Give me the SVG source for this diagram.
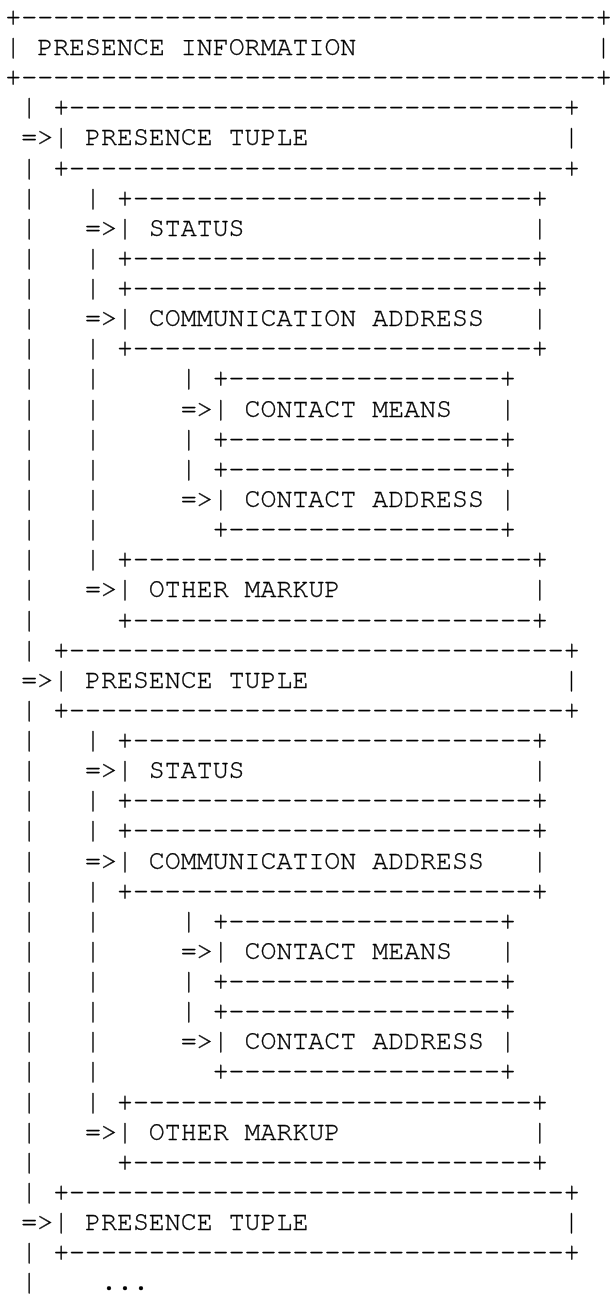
<svg xmlns="http://www.w3.org/2000/svg" width="610" height="1297" viewBox="0 0 610 1297">
<defs>
<filter id="flat" filterUnits="userSpaceOnUse" x="0" y="0" width="610" height="1297"><feOffset dx="0" dy="0"/></filter>
</defs>
<style>
text{font-family:"Nimbus Mono PS","FreeMono","Courier New","Liberation Mono",monospace;font-size:26.6px;fill:#000;stroke:#000;stroke-width:0.35px;white-space:pre}
</style>
<rect width="610" height="1297" fill="#fff"/>
<g filter="url(#flat)">
<g id="connectors">
<text x="21.25" y="115.3">|</text>
<text x="21.25" y="145.4">=&gt;</text>
<text x="21.25" y="175.5">|</text>
<text x="21.25" y="205.7">|</text><text x="21.25" y="235.8">|</text><text x="21.25" y="265.9">|</text><text x="21.25" y="296.0">|</text><text x="21.25" y="326.2">|</text><text x="21.25" y="356.3">|</text><text x="21.25" y="386.4">|</text><text x="21.25" y="416.6">|</text><text x="21.25" y="446.7">|</text><text x="21.25" y="476.8">|</text><text x="21.25" y="507.0">|</text><text x="21.25" y="537.1">|</text><text x="21.25" y="567.2">|</text><text x="21.25" y="597.3">|</text><text x="21.25" y="627.5">|</text><text x="21.25" y="657.6">|</text>
<text x="21.25" y="687.7">=&gt;</text>
<text x="21.25" y="717.9">|</text>
<text x="21.25" y="748.0">|</text><text x="21.25" y="778.1">|</text><text x="21.25" y="808.3">|</text><text x="21.25" y="838.4">|</text><text x="21.25" y="868.5">|</text><text x="21.25" y="898.6">|</text><text x="21.25" y="928.8">|</text><text x="21.25" y="958.9">|</text><text x="21.25" y="989.0">|</text><text x="21.25" y="1019.2">|</text><text x="21.25" y="1049.3">|</text><text x="21.25" y="1079.4">|</text><text x="21.25" y="1109.6">|</text><text x="21.25" y="1139.7">|</text><text x="21.25" y="1169.8">|</text><text x="21.25" y="1199.9">|</text>
<text x="21.25" y="1230.1">=&gt;</text>
<text x="21.25" y="1260.2">|</text>
<text x="21.25" y="1290.3">|</text>
<text x="85.05" y="205.7">|</text>
<text x="85.05" y="235.8">=&gt;</text>
<text x="85.05" y="265.9">|</text>
<text x="85.05" y="296.0">|</text>
<text x="85.05" y="326.2">=&gt;</text>
<text x="85.05" y="356.3">|</text>
<text x="85.05" y="386.4">|</text><text x="85.05" y="416.6">|</text><text x="85.05" y="446.7">|</text><text x="85.05" y="476.8">|</text><text x="85.05" y="507.0">|</text><text x="85.05" y="537.1">|</text><text x="85.05" y="567.2">|</text>
<text x="85.05" y="597.3">=&gt;</text>
<text x="180.75" y="386.4">|</text>
<text x="180.75" y="416.6">=&gt;</text>
<text x="180.75" y="446.7">|</text>
<text x="180.75" y="476.8">|</text>
<text x="180.75" y="507.0">=&gt;</text>
<text x="85.05" y="748.0">|</text>
<text x="85.05" y="778.1">=&gt;</text>
<text x="85.05" y="808.3">|</text>
<text x="85.05" y="838.4">|</text>
<text x="85.05" y="868.5">=&gt;</text>
<text x="85.05" y="898.6">|</text>
<text x="85.05" y="928.8">|</text><text x="85.05" y="958.9">|</text><text x="85.05" y="989.0">|</text><text x="85.05" y="1019.2">|</text><text x="85.05" y="1049.3">|</text><text x="85.05" y="1079.4">|</text><text x="85.05" y="1109.6">|</text>
<text x="85.05" y="1139.7">=&gt;</text>
<text x="180.75" y="928.8">|</text>
<text x="180.75" y="958.9">=&gt;</text>
<text x="180.75" y="989.0">|</text>
<text x="180.75" y="1019.2">|</text>
<text x="180.75" y="1049.3">=&gt;</text>
</g>
<g id="presence-information">
<text x="5.3" y="24.9">+------------------------------------+</text>
<text x="5.3" y="55.0">|</text><text x="37.2" y="55.0">PRESENCE INFORMATION</text><text x="595.45" y="55.0">|</text>
<text x="5.3" y="85.1">+------------------------------------+</text>
</g>
<g id="presence-tuple-1">
<text x="53.15" y="115.3">+-------------------------------+</text>
<text x="53.15" y="145.4">|</text><text x="85.05" y="145.4">PRESENCE TUPLE</text><text x="563.55" y="145.4">|</text>
<text x="53.15" y="175.5">+-------------------------------+</text>
</g>
<g id="status-1">
<text x="116.95" y="205.7">+-------------------------+</text>
<text x="116.95" y="235.8">|</text><text x="148.85" y="235.8">STATUS</text><text x="531.65" y="235.8">|</text>
<text x="116.95" y="265.9">+-------------------------+</text>
</g>
<g id="communication-address-1">
<text x="116.95" y="296.0">+-------------------------+</text>
<text x="116.95" y="326.2">|</text><text x="148.85" y="326.2">COMMUNICATION ADDRESS</text><text x="531.65" y="326.2">|</text>
<text x="116.95" y="356.3">+-------------------------+</text>
</g>
<g id="contact-means-1">
<text x="212.65" y="386.4">+-----------------+</text>
<text x="212.65" y="416.6">|</text><text x="244.55" y="416.6">CONTACT MEANS</text><text x="499.75" y="416.6">|</text>
<text x="212.65" y="446.7">+-----------------+</text>
</g>
<g id="contact-address-1">
<text x="212.65" y="476.8">+-----------------+</text>
<text x="212.65" y="507.0">|</text><text x="244.55" y="507.0">CONTACT ADDRESS</text><text x="499.75" y="507.0">|</text>
<text x="212.65" y="537.1">+-----------------+</text>
</g>
<g id="other-markup-1">
<text x="116.95" y="567.2">+-------------------------+</text>
<text x="116.95" y="597.3">|</text><text x="148.85" y="597.3">OTHER MARKUP</text><text x="531.65" y="597.3">|</text>
<text x="116.95" y="627.5">+-------------------------+</text>
</g>
<g id="presence-tuple-2">
<text x="53.15" y="657.6">+-------------------------------+</text>
<text x="53.15" y="687.7">|</text><text x="85.05" y="687.7">PRESENCE TUPLE</text><text x="563.55" y="687.7">|</text>
<text x="53.15" y="717.9">+-------------------------------+</text>
</g>
<g id="status-2">
<text x="116.95" y="748.0">+-------------------------+</text>
<text x="116.95" y="778.1">|</text><text x="148.85" y="778.1">STATUS</text><text x="531.65" y="778.1">|</text>
<text x="116.95" y="808.3">+-------------------------+</text>
</g>
<g id="communication-address-2">
<text x="116.95" y="838.4">+-------------------------+</text>
<text x="116.95" y="868.5">|</text><text x="148.85" y="868.5">COMMUNICATION ADDRESS</text><text x="531.65" y="868.5">|</text>
<text x="116.95" y="898.6">+-------------------------+</text>
</g>
<g id="contact-means-2">
<text x="212.65" y="928.8">+-----------------+</text>
<text x="212.65" y="958.9">|</text><text x="244.55" y="958.9">CONTACT MEANS</text><text x="499.75" y="958.9">|</text>
<text x="212.65" y="989.0">+-----------------+</text>
</g>
<g id="contact-address-2">
<text x="212.65" y="1019.2">+-----------------+</text>
<text x="212.65" y="1049.3">|</text><text x="244.55" y="1049.3">CONTACT ADDRESS</text><text x="499.75" y="1049.3">|</text>
<text x="212.65" y="1079.4">+-----------------+</text>
</g>
<g id="other-markup-2">
<text x="116.95" y="1109.6">+-------------------------+</text>
<text x="116.95" y="1139.7">|</text><text x="148.85" y="1139.7">OTHER MARKUP</text><text x="531.65" y="1139.7">|</text>
<text x="116.95" y="1169.8">+-------------------------+</text>
</g>
<g id="presence-tuple-3">
<text x="53.15" y="1199.9">+-------------------------------+</text>
<text x="53.15" y="1230.1">|</text><text x="85.05" y="1230.1">PRESENCE TUPLE</text><text x="563.55" y="1230.1">|</text>
<text x="53.15" y="1260.2">+-------------------------------+</text>
</g>
<g id="more">
<text x="101.0" y="1290.3">...</text>
</g>
</g>
</svg>
